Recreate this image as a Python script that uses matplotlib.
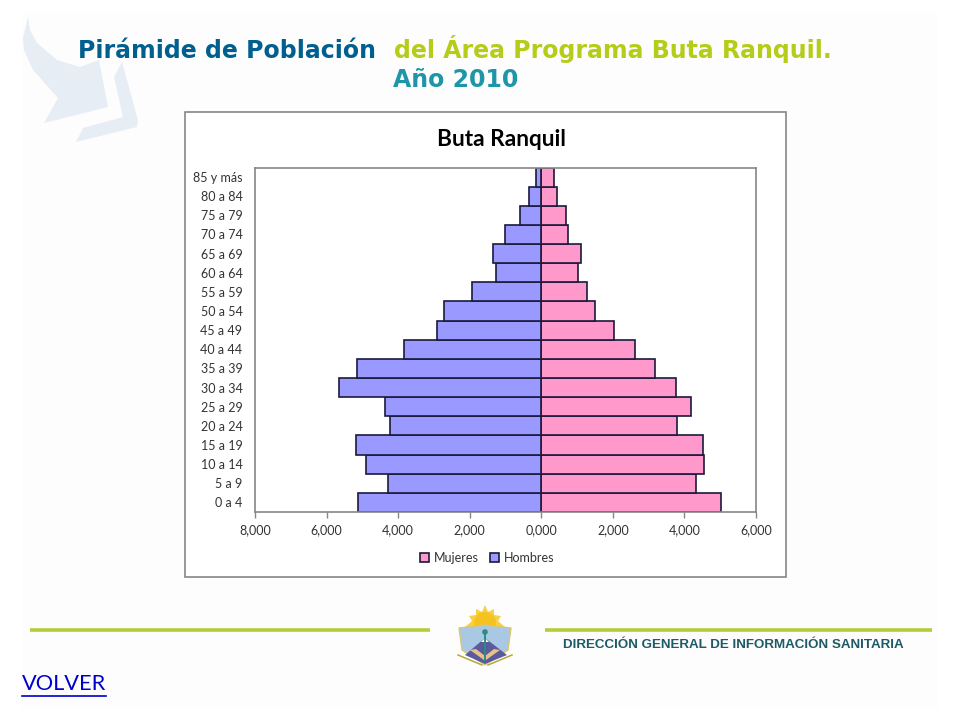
import matplotlib
matplotlib.use('Agg')  # Use non-interactive backend
import matplotlib.pyplot as plt
from matplotlib.patches import Polygon, Rectangle, Circle

age_groups = ['0 a 4', '5 a 9', '10 a 14', '15 a 19', '20 a 24', '25 a 29', '30 a 34',
              '35 a 39', '40 a 44', '45 a 49', '50 a 54', '55 a 59', '60 a 64', '65 a 69',
              '70 a 74', '75 a 79', '80 a 84', '85 y más']
mujeres = [5.01, 4.31, 4.56, 4.51, 3.79, 4.17, 3.76, 3.19, 2.62, 2.04, 1.50, 1.29, 1.02, 1.10,
           0.75, 0.70, 0.43, 0.345]
hombres = [5.11, 4.27, 4.90, 5.19, 4.22, 4.38, 5.65, 5.15, 3.85, 2.91, 2.72, 1.94, 1.26, 1.34,
           1.01, 0.60, 0.35, 0.15]
x_ticks = [-8, -6, -4, -2, 0, 2, 4, 6]
x_tick_labels = ['8,000', '6,000', '4,000', '2,000', '0,000', '2,000', '4,000', '6,000']

W, H = 960, 720
fig = plt.figure(figsize=(9.6, 7.2), dpi=100, facecolor='white')

# Slide background in pixel coordinates
bg = fig.add_axes([0, 0, 1, 1])
bg.set_xlim(0, W)
bg.set_ylim(H, 0)
bg.axis('off')
bg.add_patch(Rectangle((22, 13), 916, 695, facecolor='#fdfdfd', edgecolor='none'))

# Pale arrow watermark
arrow = '#e7edf4'
bg.add_patch(Polygon([(28, 17), (30, 30), (37, 43), (57, 60), (80, 67), (99, 60), (108, 107),
                      (44, 123), (58, 98), (33, 70), (24, 50), (23, 38)],
                     facecolor=arrow, edgecolor='none'))
bg.add_patch(Polygon([(122, 62), (114, 77), (123, 117), (83, 128), (76, 142), (137, 127), (138, 120)],
                     facecolor=arrow, edgecolor='none'))

# Title
title_size = 17
bg.text(78, 58, 'Pirámide de Población', color='#005f8f', fontsize=title_size, fontweight='bold',
        family='DejaVu Sans', va='baseline', ha='left')
bg.text(394, 58, 'del Área Programa Buta Ranquil.', color='#b5cc18', fontsize=title_size, fontweight='bold',
        family='DejaVu Sans', va='baseline', ha='left')
bg.text(393, 87, 'Año 2010', color='#1e96a8', fontsize=title_size, fontweight='bold',
        family='DejaVu Sans', va='baseline', ha='left')

# Chart card
bg.add_patch(Rectangle((185, 111.5), 601, 465.5, facecolor='white', edgecolor='#868686', linewidth=1.2))
bg.text(501.5, 139, 'Buta Ranquil', fontsize=16.3, fontweight='bold', family='Lato', color='black',
        ha='center', va='center')

# Footer
bg.plot([30, 430], [630, 630], color='#b5cc3a', linewidth=2.6, solid_capstyle='butt')
bg.plot([545, 932], [630, 630], color='#b5cc3a', linewidth=2.6, solid_capstyle='butt')

# Provincial emblem, drawn roughly
bg.add_patch(Polygon([(485, 605), (488, 612), (494, 609), (494, 615), (501, 616), (498, 621), (505, 627),
                      (465, 627), (472, 621), (469, 616), (476, 615), (476, 609), (482, 612)],
                     facecolor='#f8d040', edgecolor='none'))
bg.add_patch(Circle((485, 623), 11, facecolor='#f5c21f', edgecolor='none'))
bg.add_patch(Polygon([(459, 628), (485, 625), (511, 628), (508, 650), (485, 665), (462, 650)],
                     facecolor='#a9c8e4', edgecolor='#d9c870', linewidth=1))
bg.add_patch(Polygon([(465, 655), (485, 638), (507, 655), (485, 664)], facecolor='#5b5a9c', edgecolor='none'))
bg.add_patch(Polygon([(481, 642), (485, 638), (489, 642)], facecolor='white', edgecolor='none'))
bg.add_patch(Polygon([(470, 650), (484, 660), (486, 660), (500, 650), (494, 649), (485, 656), (476, 649)],
                     facecolor='#e8c08c', edgecolor='none'))
bg.plot([485, 485], [634, 660], color='#2c8c80', linewidth=1.4)
bg.add_patch(Circle((485, 632), 2.8, facecolor='#2c8c80', edgecolor='none'))
bg.plot([458, 482], [655, 665], color='#b5a83a', linewidth=1.1)
bg.plot([512, 488], [655, 665], color='#b5a83a', linewidth=1.1)

bg.text(563, 645.5, 'DIRECCIÓN GENERAL DE INFORMACIÓN SANITARIA', color='#1d5a66', fontsize=9.6,
        fontweight='bold', family='Liberation Sans', va='center', ha='left')
bg.text(22, 684, 'VOLVER', color='#0000cc', fontsize=15.7, family='Lato', va='center', ha='left')
bg.plot([22, 106], [696, 696], color='#0000cc', linewidth=1.2)

# Pyramid
left, right, top, bottom = 255, 756, 167.5, 512
ax = fig.add_axes([left / W, 1 - bottom / H, (right - left) / W, (bottom - top) / H])
y_pos = list(range(len(age_groups)))
ax.barh(y_pos, mujeres, height=1.0, color='#ff99cc', edgecolor='#1a1a3c', linewidth=1.2, label='Mujeres')
ax.barh(y_pos, [-v for v in hombres], height=1.0, color='#9999ff', edgecolor='#1a1a3c', linewidth=1.2,
        label='Hombres')
ax.set_xlim(-8, 6)
ax.set_ylim(-0.5, len(age_groups) - 0.5)
ax.set_xticks(x_ticks)
ax.set_xticklabels(x_tick_labels, fontsize=9, family='Lato', color='#333333')
ax.set_yticks(y_pos)
ax.set_yticklabels(age_groups, fontsize=9, family='Lato', color='#333333')
ax.tick_params(axis='y', length=0, pad=9)
ax.tick_params(axis='x', length=4, width=1, color='#868686', pad=5)
for spine in ax.spines.values():
    spine.set_color('#868686')
    spine.set_linewidth(1.2)

handles, labels = ax.get_legend_handles_labels()
fig.legend(handles, labels, loc='center', bbox_to_anchor=(487.5 / W, 1 - 557.5 / H), ncol=2, frameon=False,
           prop={'family': 'Lato', 'size': 9}, handlelength=0.7, handleheight=0.7, handletextpad=0.4,
           columnspacing=0.9, labelcolor='#333333')

fig.savefig('out.png', dpi=100, facecolor='white')
